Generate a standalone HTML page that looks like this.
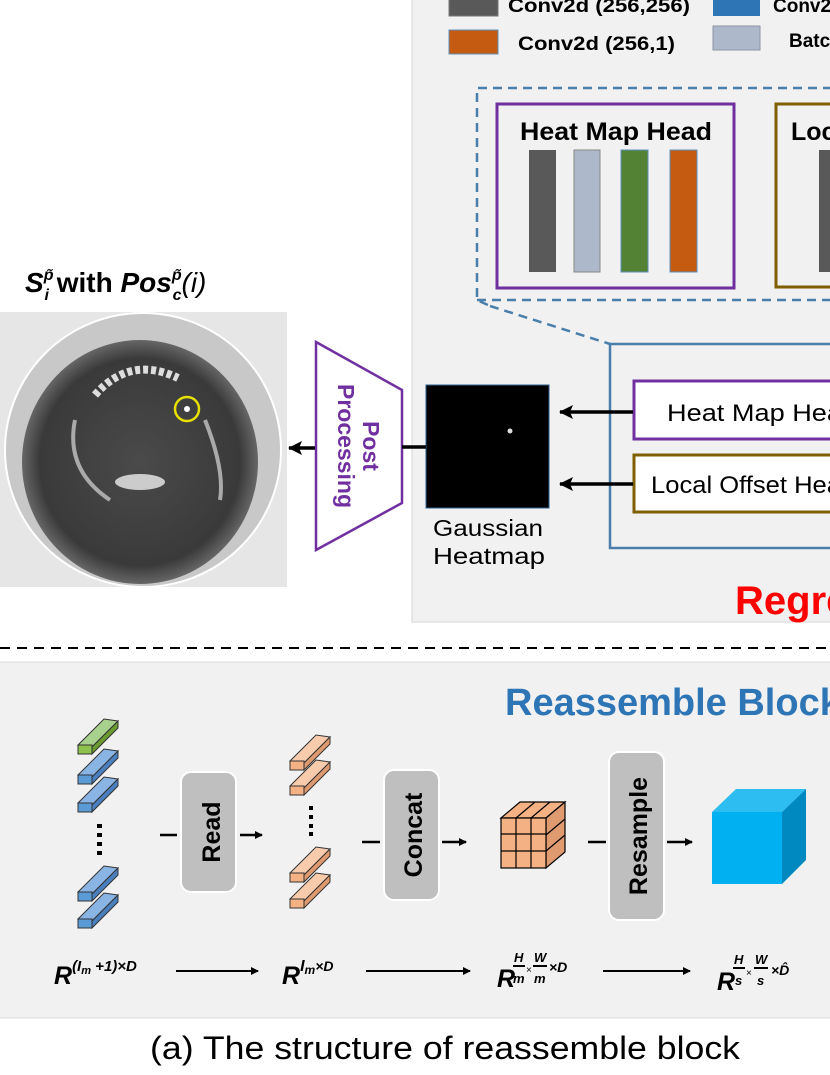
<!DOCTYPE html>
<html><head><meta charset="utf-8"><style>
html,body{margin:0;padding:0;background:#fff;}
svg{display:block;}
text{font-family:"Liberation Sans",sans-serif;}
</style></head><body>
<svg width="830" height="1075" viewBox="0 0 830 1075" xmlns="http://www.w3.org/2000/svg">
<defs>
<marker id="ah" markerWidth="8" markerHeight="8" refX="7" refY="4" orient="auto" markerUnits="userSpaceOnUse"><path d="M0,0 L8,4 L0,8 z" fill="#000"/></marker>
<marker id="ahb" markerWidth="14" markerHeight="14" refX="13" refY="7" orient="auto" markerUnits="userSpaceOnUse"><path d="M0,0 L14,7 L0,14 L3,7 z" fill="#000"/></marker>
<radialGradient id="ct" cx="50%" cy="50%" r="50%"><stop offset="0%" stop-color="#4a4a4a"/><stop offset="85%" stop-color="#3a3a3a"/><stop offset="100%" stop-color="#666"/></radialGradient>
<g id="bt"><polygon points="78,745 104,719 118,721 92,747" fill="#8ab4e4" stroke="#333"/><polygon points="92,747 118,721 118,728 92,754" fill="#4a7fc0" stroke="#333"/><rect x="78" y="745" width="14" height="9" fill="#5b9bd5" stroke="#333"/></g>
<g id="ot"><polygon points="78,745 104,719 118,721 92,747" fill="#f8cbad" stroke="#333"/><polygon points="92,747 118,721 118,728 92,754" fill="#e09a70" stroke="#333"/><rect x="78" y="745" width="14" height="9" fill="#f4b183" stroke="#333"/></g>
</defs>
<rect x="412" y="-2" width="420" height="624" fill="#f1f1f1" stroke="#d6d6d6"/>
<rect x="449" y="-6" width="49" height="22" fill="#595959" stroke="#777"/>
<text x="508" y="12" font-size="19" font-weight="bold" textLength="182" lengthAdjust="spacingAndGlyphs">Conv2d (256,256)</text>
<rect x="713" y="-6" width="47" height="22" fill="#2e75b6"/>
<text x="773" y="12" font-size="19" font-weight="bold">Conv2</text>
<rect x="449" y="30" width="49" height="24" fill="#c55a11" stroke="#5b8fc0"/>
<text x="518" y="50" font-size="19" font-weight="bold" textLength="157" lengthAdjust="spacingAndGlyphs">Conv2d (256,1)</text>
<rect x="713" y="26" width="47" height="24" fill="#adb9ca" stroke="#8b95a5"/>
<text x="789" y="47" font-size="19" font-weight="bold">Batc</text>
<path d="M832,88 L477,88 L477,300 L490,306 M477,300 L832,300 M490,306 L610,344" fill="none" stroke="#4a7eab" stroke-width="2.5" stroke-dasharray="9,6"/>
<rect x="497" y="104" width="237" height="184" fill="none" stroke="#7030a0" stroke-width="3"/>
<text x="520" y="140" font-size="25" font-weight="bold" textLength="192" lengthAdjust="spacingAndGlyphs">Heat Map Head</text>
<rect x="529" y="150" width="27" height="122" fill="#595959"/>
<rect x="574" y="150" width="26" height="122" fill="#adb9ca" stroke="#888"/>
<rect x="621" y="150" width="27" height="122" fill="#548235" stroke="#5b8fc0"/>
<rect x="670" y="150" width="27" height="122" fill="#c55a11" stroke="#5b8fc0"/>
<rect x="776" y="104" width="60" height="183" fill="none" stroke="#7f6000" stroke-width="3"/>
<text x="791" y="140" font-size="25" font-weight="bold">Loc</text>
<rect x="819" y="150" width="20" height="122" fill="#595959"/>
<rect x="610" y="344" width="230" height="204" fill="none" stroke="#4a7eab" stroke-width="2.5"/>
<rect x="634" y="381" width="210" height="58" fill="#fff" stroke="#7030a0" stroke-width="3"/>
<text x="667" y="421" font-size="24" textLength="175" lengthAdjust="spacingAndGlyphs">Heat Map Hea</text>
<rect x="634" y="455" width="210" height="57" fill="#fff" stroke="#7f6000" stroke-width="3"/>
<text x="651" y="493" font-size="24" textLength="190" lengthAdjust="spacingAndGlyphs">Local Offset Hea</text>
<line x1="633" y1="412" x2="560" y2="412" stroke="#000" stroke-width="3.5" marker-end="url(#ahb)"/>
<line x1="633" y1="484" x2="560" y2="484" stroke="#000" stroke-width="3.5" marker-end="url(#ahb)"/>
<rect x="426" y="385" width="123" height="123" fill="#000" stroke="#2e5f8f"/>
<circle cx="510" cy="431" r="2.5" fill="#ddd"/>
<text x="433" y="536" font-size="23" textLength="110" lengthAdjust="spacingAndGlyphs">Gaussian</text>
<text x="433" y="564" font-size="23" textLength="112" lengthAdjust="spacingAndGlyphs">Heatmap</text>
<text x="735" y="614" font-size="40" font-weight="bold" fill="#ff0000">Regre</text>
<polygon points="316,342 402,390 402,503 316,550" fill="#fff" stroke="#7030a0" stroke-width="2.5"/>
<g transform="translate(360,446) rotate(90)"><text x="0" y="-3" font-size="23" font-weight="bold" fill="#7030a0" text-anchor="middle">Post</text><text x="0" y="22" font-size="23" font-weight="bold" fill="#7030a0" text-anchor="middle">Processing</text></g>
<line x1="426" y1="447" x2="402" y2="447" stroke="#000" stroke-width="3.5"/>
<line x1="315" y1="448" x2="289" y2="448" stroke="#000" stroke-width="3.5" marker-end="url(#ahb)"/>
<rect x="0" y="312" width="287" height="275" fill="#e6e6e6"/>
<ellipse cx="143" cy="450" rx="138" ry="137" fill="#c8c8c8" stroke="#fff" stroke-width="2"/>
<ellipse cx="140" cy="462" rx="118" ry="122" fill="url(#ct)"/>
<path d="M95,395 Q130,355 178,378" fill="none" stroke="#ddd" stroke-width="8" stroke-dasharray="5,3"/>
<path d="M75,420 Q65,470 110,500 M205,420 Q225,470 220,500" fill="none" stroke="#aaa" stroke-width="4"/>
<ellipse cx="140" cy="482" rx="25" ry="8" fill="#ccc"/>
<circle cx="187" cy="409" r="12" fill="none" stroke="#e8e000" stroke-width="2.5"/>
<circle cx="187" cy="409" r="3" fill="#fff"/>
<text x="25" y="292" font-family="Liberation Serif" font-size="28" font-weight="bold" font-style="italic">S<tspan font-size="16" dy="-12">p̃</tspan><tspan font-size="16" dx="-9" dy="20">i</tspan><tspan dy="-8" font-family="Liberation Sans" font-style="normal"> with </tspan>Pos<tspan font-size="16" dy="-12">p̃</tspan><tspan font-size="16" dx="-9" dy="20">c</tspan><tspan dy="-8" font-weight="normal">(i)</tspan></text>
<line x1="0" y1="648" x2="830" y2="648" stroke="#000" stroke-width="2" stroke-dasharray="10,7"/>
<rect x="-2" y="662" width="834" height="356" fill="#f1f1f1" stroke="#dcdcdc"/>
<text x="505" y="715" font-size="38" font-weight="bold" fill="#2e75b6">Reassemble Block</text>
<!-- tokens -->
<g><polygon points="78,745 104,719 118,721 92,747" fill="#a9d18e" stroke="#333"/><polygon points="92,747 118,721 118,728 92,754" fill="#6a9a30" stroke="#333"/><rect x="78" y="745" width="14" height="9" fill="#8fc14e" stroke="#333"/></g>
<use href="#bt" transform="translate(0,30)"/>
<use href="#bt" transform="translate(0,58)"/>
<use href="#bt" transform="translate(0,147)"/>
<use href="#bt" transform="translate(0,174)"/>
<use href="#ot" transform="translate(212,16)"/>
<use href="#ot" transform="translate(212,41)"/>
<use href="#ot" transform="translate(212,128)"/>
<use href="#ot" transform="translate(212,154)"/>
<g fill="#000"><rect x="97" y="824" width="5" height="4"/><rect x="97" y="833" width="5" height="4"/><rect x="97" y="842" width="5" height="4"/><rect x="97" y="851" width="5" height="4"/>
<rect x="309" y="806" width="4" height="4"/><rect x="309" y="815" width="4" height="4"/><rect x="309" y="824" width="4" height="4"/><rect x="309" y="832" width="4" height="4"/></g>
<rect x="181" y="772" width="55" height="120" rx="10" fill="#bfbfbf" stroke="#fff" stroke-width="2"/>
<text transform="translate(220,832) rotate(-90)" font-size="25" font-weight="bold" text-anchor="middle">Read</text>
<rect x="384" y="770" width="55" height="130" rx="10" fill="#bfbfbf" stroke="#fff" stroke-width="2"/>
<text transform="translate(422,835) rotate(-90)" font-size="25" font-weight="bold" text-anchor="middle">Concat</text>
<rect x="609" y="752" width="55" height="168" rx="10" fill="#bfbfbf" stroke="#fff" stroke-width="2"/>
<text transform="translate(647,836) rotate(-90)" font-size="25" font-weight="bold" text-anchor="middle">Resample</text>
<g stroke="#000" stroke-width="2.5">
<line x1="160" y1="835" x2="177" y2="835"/><line x1="240" y1="835" x2="262" y2="835" marker-end="url(#ah)"/>
<line x1="362" y1="842" x2="380" y2="842"/><line x1="442" y1="842" x2="466" y2="842" marker-end="url(#ah)"/>
<line x1="588" y1="842" x2="606" y2="842"/><line x1="667" y1="842" x2="692" y2="842" marker-end="url(#ah)"/>
</g>
<g stroke="#000" stroke-width="1.2">
<polygon points="501,818 520,802 565,802 546,818" fill="#f4b183"/>
<polygon points="546,818 565,802 565,852 546,868" fill="#e09a70"/>
<rect x="501" y="818" width="45" height="50" fill="#f4b183"/>
<path d="M516,818 V868 M531,818 V868 M501,834 H546 M501,851 H546 M516,818 L535,802 M531,818 L550,802 M546,835 L565,819 M546,851 L565,835" fill="none"/>
</g>
<polygon points="712,812 736,789 806,789 782,812" fill="#2ebdf0"/>
<polygon points="782,812 806,789 806,860 782,884" fill="#0089c0"/>
<rect x="712" y="812" width="70" height="72" fill="#00b0f0"/>
<g font-family="Liberation Serif" font-style="italic" font-weight="bold">
<text x="54" y="984" font-size="25">R<tspan font-size="15" dy="-13">(I</tspan><tspan font-size="11" dy="3">m</tspan><tspan font-size="15" dy="-3"> +1)×D</tspan></text>
<text x="282" y="984" font-size="25">R<tspan font-size="16" dy="-13">I</tspan><tspan font-size="12" dy="3">m</tspan><tspan font-size="14" dy="-3">×D</tspan></text>
<text x="497" y="987" font-size="25">R</text>
<text x="514" y="962" font-size="13">H</text><text x="513" y="983" font-size="13">m</text>
<text x="534" y="962" font-size="13">W</text><text x="534" y="983" font-size="13">m</text>
<text x="549" y="972" font-size="14">×D</text>
<text x="717" y="990" font-size="25">R</text>
<text x="734" y="964" font-size="13">H</text><text x="735" y="985" font-size="13">s</text>
<text x="755" y="964" font-size="13">W</text><text x="757" y="985" font-size="13">s</text>
<text x="771" y="975" font-size="14">×D̂</text>
</g>
<g stroke="#000" stroke-width="2" fill="none">
<line x1="513" y1="966" x2="525" y2="966"/><line x1="533" y1="966" x2="547" y2="966"/>
<line x1="733" y1="968" x2="745" y2="968"/><line x1="754" y1="968" x2="768" y2="968"/>
<line x1="176" y1="971" x2="258" y2="971" marker-end="url(#ah)"/>
<line x1="366" y1="971" x2="470" y2="971" marker-end="url(#ah)"/>
<line x1="603" y1="971" x2="690" y2="971" marker-end="url(#ah)"/>
</g>
<text x="526" y="973" font-size="10">×</text><text x="746" y="976" font-size="10">×</text>
<text x="150" y="1059" font-size="32" textLength="590" lengthAdjust="spacingAndGlyphs">(a) The structure of reassemble block</text>
</svg>
</body></html>
